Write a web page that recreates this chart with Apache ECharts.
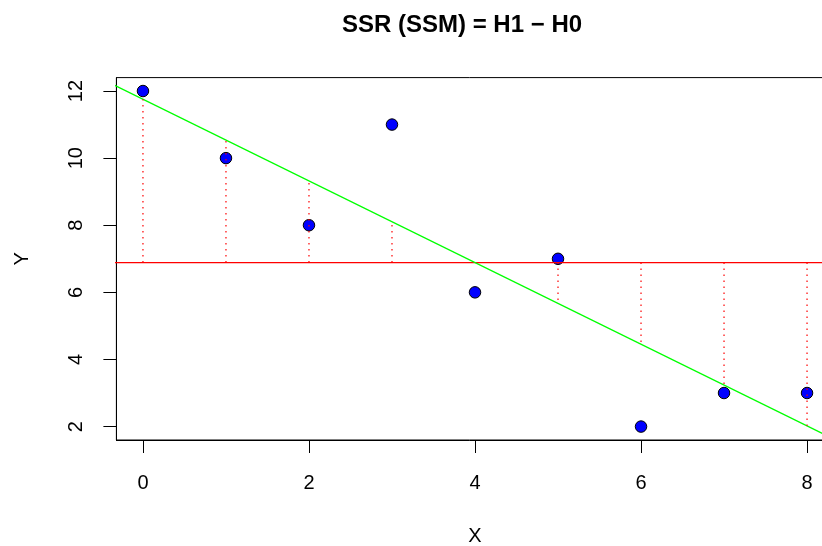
<!DOCTYPE html>
<html>
<head>
<meta charset="utf-8">
<script src="https://cdn.jsdelivr.net/npm/echarts@6/dist/echarts.min.js"></script>
<style>html,body{margin:0;padding:0;background:#fff}#c{width:822px;height:546px}</style>
</head>
<body>
<div id="c"></div>
<script>
const xValues = [0, 1, 2, 3, 4, 5, 6, 7, 8];
const yValues = [12, 10, 8, 11, 6, 7, 2, 3, 3];
const xTicks = [0, 2, 4, 6, 8];
const yTicks = [2, 4, 6, 8, 10, 12];
const titleText = 'SSR (SSM) = H1 \u2212 H0';

// least-squares fit (as in the original lm) and mean line
const n = xValues.length;
const mx = xValues.reduce((a, b) => a + b, 0) / n;
const my = yValues.reduce((a, b) => a + b, 0) / n;
let sxy = 0, sxx = 0;
for (let i = 0; i < n; i++) { sxy += (xValues[i] - mx) * (yValues[i] - my); sxx += (xValues[i] - mx) ** 2; }
const slope = sxy / sxx;
const intercept = my - slope * mx;

const xMin = -0.32, xMax = 8.32, yMin = 1.6, yMax = 12.4;
const FONT = 'Liberation Sans, Arial, sans-serif';

const chart = echarts.init(document.getElementById('c'), null, { renderer: 'canvas' });
chart.setOption({
  backgroundColor: '#fff',
  animation: false,
  grid: { left: 116.4, top: 77.6, width: 717.2, height: 362.4, show: true, borderColor: '#000', borderWidth: 1, backgroundColor: 'transparent', containLabel: false, outerBoundsMode: 'none' },
  graphic: [{
    type: 'text', left: 475 - 133, top: 13,
    style: { text: titleText, font: 'bold 24px ' + FONT, fill: '#000' }
  }],
  xAxis: {
    type: 'value', min: xMin, max: xMax,
    name: 'X', nameLocation: 'middle', nameGap: 86,
    nameTextStyle: { fontFamily: FONT, fontSize: 20, color: '#000' },
    axisLine: { show: true, onZero: false, lineStyle: { color: '#000', width: 1 } },
    axisTick: { show: true, inside: false, length: 13, customValues: xTicks, lineStyle: { color: '#000' } },
    axisLabel: { customValues: xTicks, margin: 33, fontFamily: FONT, fontSize: 20, color: '#000' },
    splitLine: { show: false }
  },
  yAxis: {
    type: 'value', min: yMin, max: yMax,
    name: 'Y', nameLocation: 'middle', nameGap: 84, nameRotate: 90,
    nameTextStyle: { fontFamily: FONT, fontSize: 20, color: '#000' },
    axisLine: { show: true, onZero: false, lineStyle: { color: '#000', width: 1 } },
    axisTick: { show: true, inside: false, length: 13, customValues: yTicks, lineStyle: { color: '#000' } },
    axisLabel: { customValues: yTicks, rotate: 90, margin: 30, fontFamily: FONT, fontSize: 20, color: '#000' },
    splitLine: { show: false }
  },
  series: [
    {
      type: 'scatter', z: 2,
      data: xValues.map((x, i) => [x, yValues[i]]),
      symbol: 'circle', symbolSize: 11.5,
      itemStyle: { color: '#0000ff', borderColor: '#000', borderWidth: 1, opacity: 1 }
    },
    {
      type: 'line', z: 3, clip: true, symbol: 'none',
      data: [[xMin - 1, my], [xMax + 1, my]],
      lineStyle: { color: '#ff0000', width: 1.3 }
    },
    {
      type: 'line', z: 3, clip: true, symbol: 'none',
      data: [[xMin - 1, intercept + slope * (xMin - 1)], [xMax + 1, intercept + slope * (xMax + 1)]],
      lineStyle: { color: '#00ff00', width: 1.3 }
    },
    {
      type: 'custom', z: 4,
      data: xValues.map(x => [x, my, intercept + slope * x]),
      renderItem: function (params, api) {
        const p1 = api.coord([api.value(0), api.value(1)]);
        const p2 = api.coord([api.value(0), api.value(2)]);
        return {
          type: 'line',
          shape: { x1: p1[0], y1: p1[1], x2: p2[0], y2: p2[1] },
          style: { stroke: '#ff0000', lineWidth: 1.2, lineDash: [1.5, 4.5] }
        };
      }
    }
  ]
});
</script>
</body>
</html>
